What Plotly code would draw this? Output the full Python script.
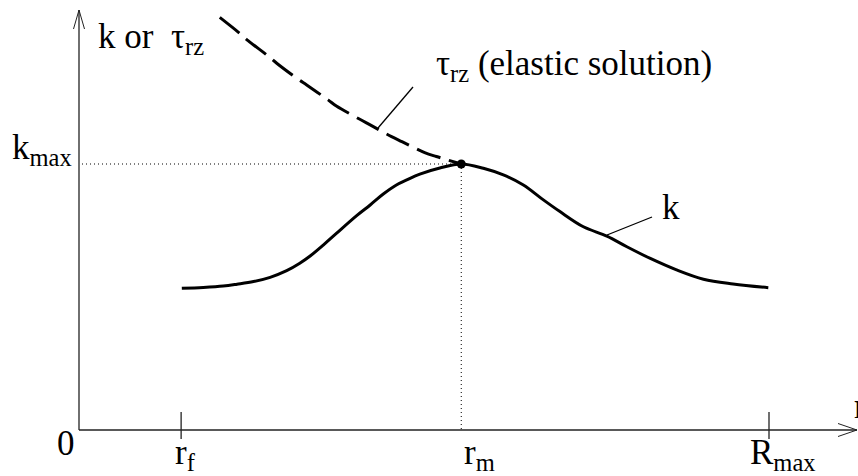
import plotly.graph_objects as go

# ---- data (normalised: r / R_max, value / k_max) ----
r_ticks = [0.148, 0.554, 1.0]            # r_f, r_m, R_max
tick_labels = ["r<sub>f</sub>", "r<sub>m</sub>", "R<sub>max</sub>"]
tick_label_shift = [-8, 1, -21]          # label left edge offset from tick (px)
k_max = 1.0
r_m = 0.554

k_r = [0.149, 0.180, 0.209, 0.229, 0.253, 0.277, 0.301, 0.320, 0.335, 0.354, 0.373,
       0.402, 0.422, 0.441, 0.460, 0.475, 0.494, 0.523, 0.554, 0.586, 0.615, 0.644,
       0.673, 0.697, 0.731, 0.765, 0.794, 0.828, 0.866, 0.905, 0.948, 0.999]
k_val = [0.533, 0.536, 0.541, 0.548, 0.558, 0.574, 0.599, 0.627, 0.654, 0.695, 0.739,
         0.805, 0.846, 0.887, 0.921, 0.940, 0.962, 0.985, 1.000, 0.984, 0.959, 0.921,
         0.865, 0.821, 0.764, 0.729, 0.689, 0.645, 0.602, 0.567, 0.549, 0.535]

tau_r = [0.204, 0.233, 0.245, 0.274, 0.287, 0.318, 0.330, 0.361, 0.373, 0.407, 0.422,
         0.453, 0.468, 0.501, 0.518, 0.554]
tau_val = [1.551, 1.491, 1.464, 1.406, 1.378, 1.318, 1.297, 1.241, 1.218, 1.168, 1.147,
           1.103, 1.084, 1.043, 1.028, 1.000]

# ---- layout geometry ----
W, H = 858, 476
X0, Y0 = 79, 430          # pixel of origin
SX, SY = 690, 266         # pixels per unit
def px_x(p): return (p - X0) / SX
def px_y(p): return (Y0 - p) / SY
def dx(p): return p / SX
def dy(p): return p / SY

FONT = "Liberation Serif, Times New Roman, DejaVu Serif, serif"
FS = 35

fig = go.Figure()

# curves
fig.add_trace(go.Scatter(x=k_r, y=k_val, mode="lines",
                         line=dict(color="black", width=3, shape="spline", smoothing=1.0),
                         hoverinfo="skip"))
fig.add_trace(go.Scatter(x=tau_r, y=tau_val, mode="lines",
                         line=dict(color="black", width=3, shape="spline", smoothing=1.0,
                                   dash="25px,9px"),
                         hoverinfo="skip"))
fig.add_trace(go.Scatter(x=[r_m], y=[k_max], mode="markers",
                         marker=dict(color="black", size=9), hoverinfo="skip"))

shapes = []
ax_col = "#222"
x_end = px_x(857)
y_end = px_y(10)
# axes
shapes.append(dict(type="line", x0=0, y0=0, x1=x_end, y1=0, line=dict(color=ax_col, width=1.3)))
shapes.append(dict(type="line", x0=0, y0=0, x1=0, y1=y_end, line=dict(color=ax_col, width=1.3)))
# arrow heads (open V)
for s in (-1, 1):
    shapes.append(dict(type="line", x0=0, y0=y_end, x1=dx(5.5 * s), y1=y_end - dy(19),
                       line=dict(color=ax_col, width=1)))
    shapes.append(dict(type="line", x0=x_end, y0=0, x1=x_end - dx(19), y1=dy(6.5 * s),
                       line=dict(color=ax_col, width=1)))
# tick marks at r_f and R_max
for rv in (r_ticks[0], r_ticks[2]):
    shapes.append(dict(type="line", x0=rv, y0=dy(-9), x1=rv, y1=dy(18),
                       line=dict(color=ax_col, width=1.3)))
# dotted guides
shapes.append(dict(type="line", x0=dx(3), y0=k_max, x1=r_m, y1=k_max,
                   line=dict(color="black", width=1, dash="1px,3px")))
shapes.append(dict(type="line", x0=r_m, y0=k_max, x1=r_m, y1=0,
                   line=dict(color="black", width=1, dash="1px,3px")))
# leader lines
shapes.append(dict(type="line", x0=px_x(378), y0=px_y(128), x1=px_x(413), y1=px_y(87),
                   line=dict(color="black", width=1.3)))
shapes.append(dict(type="line", x0=px_x(607), y0=px_y(235), x1=px_x(652), y1=px_y(217),
                   line=dict(color="black", width=1.3)))

def label(text, xl, base, anchor="left", size=FS):
    fig.add_annotation(x=px_x(xl), y=px_y(base - 0.33 * size), text=text, showarrow=False,
                       xanchor=anchor, yanchor="middle", align="left",
                       font=dict(family=FONT, size=size, color="black"))

label("k or  τ<sub>rz</sub>", 96, 50)
label("k<sub>max</sub>", 10, 161)
label("0", 66, 455, anchor="center")
for rv, t, sh in zip(r_ticks, tick_labels, tick_label_shift):
    fig.add_annotation(x=rv + dx(sh), y=px_y(466 - 0.33 * FS), text=t, showarrow=False,
                       xanchor="left", yanchor="middle", align="left",
                       font=dict(family=FONT, size=FS, color="black"))
label("r", 852, 418)
label("τ<sub>rz</sub> (elastic solution)", 434, 77)
label("k", 660, 219)

fig.update_layout(
    width=W, height=H, margin=dict(l=0, r=0, t=0, b=0),
    paper_bgcolor="white", plot_bgcolor="white", showlegend=False,
    shapes=shapes,
    xaxis=dict(range=[px_x(0), px_x(W)], visible=False, fixedrange=True),
    yaxis=dict(range=[px_y(H), px_y(0)], visible=False, fixedrange=True),
)
fig.write_html("out.html", config={"displayModeBar": False},
               post_script="document.body.style.margin='0px';document.body.style.overflow='hidden';")
